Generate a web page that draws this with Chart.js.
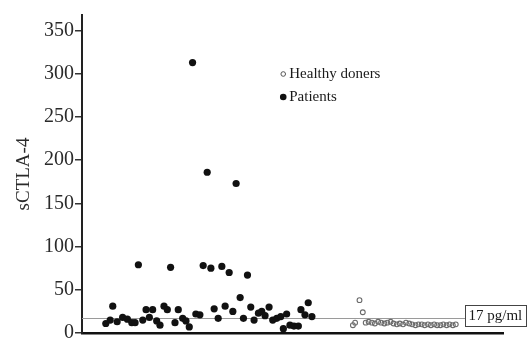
<!DOCTYPE html>
<html>
<head>
<meta charset="utf-8">
<script src="https://cdn.jsdelivr.net/npm/chart.js@4.4.0/dist/chart.umd.min.js"></script>
<style>
  html, body { margin: 0; padding: 0; background: #fff; }
  #wrap { width: 528px; height: 341px; }
</style>
</head>
<body>
<div id="wrap"><canvas id="chart"></canvas></div>
<script>
// positions along the x axis (arbitrary units) and sCTLA-4 values
const patientX = [6.5, 7.7, 8.4, 9.6, 11.1, 12.4, 13.6, 14.5, 15.4, 16.6, 17.5, 18.4, 19.3, 20.4, 21.3,
  22.4, 23.3, 24.2, 25.4, 26.3, 27.5, 28.4, 29.3, 30.2, 31.1, 32.2, 33.1, 34.2, 35.2, 36.1, 37.2,
  38.2, 39.1, 40.2, 41.2, 42.1, 43.2, 44.1, 45.2, 46.1, 47.0, 48.2, 49.1, 50.0, 51.1, 52.1, 53.2,
  54.3, 55.0, 55.9, 56.8, 57.9, 59.1, 59.8, 60.9, 61.8, 62.8];
const patientValues = [11, 15, 31, 13, 18, 16, 12, 12, 79, 15, 27, 18, 27, 14, 9,
  31, 27, 76, 12, 27, 17, 14, 7, 313, 22, 21, 78, 186, 75, 28, 17,
  77, 31, 70, 25, 173, 41, 17, 67, 30, 15, 23, 25, 20, 30, 15, 17,
  19, 5, 22, 9, 8, 8, 27, 21, 35, 19];

const healthyX = [74.0, 74.6, 75.8, 76.7, 77.5, 78.3, 79.2, 80.0, 80.9, 81.7, 82.6, 83.4, 84.3, 85.1,
  86.0, 86.8, 87.7, 88.5, 89.4, 90.2, 91.1, 91.9, 92.8, 93.6, 94.5, 95.3, 96.2, 97.0, 97.9,
  98.7, 99.6, 100.4, 101.3, 102.1];
const healthyValues = [9, 12, 38, 24, 12, 13, 12, 11, 13, 12, 11, 12, 13, 11,
  10, 11, 10, 12, 11, 10, 9, 10, 10, 9, 10, 9, 10, 9, 9,
  10, 9, 10, 9, 10];

const yTicks = [0, 50, 100, 150, 200, 250, 300, 350];
const cutoff = 17;
const cutoffLabel = "17 pg/ml";
const legendLabels = ["Healthy doners", "Patients"];

const serif = "'Liberation Serif', 'Times New Roman', serif";

function toPoints(xs, ys) {
  return xs.map((x, i) => ({ x: x, y: ys[i] }));
}

// threshold line with its boxed label
const cutoffPlugin = {
  id: "cutoff",
  beforeDatasetsDraw(chart) {
    const { ctx, chartArea } = chart;
    const y = Math.round(chart.scales.y.getPixelForValue(cutoff));
    ctx.save();
    ctx.font = "15px " + serif;
    const w = Math.round(ctx.measureText(cutoffLabel).width + 7);
    const boxRight = chart.width - 2;
    const boxLeft = boxRight - w;
    ctx.strokeStyle = "#9a9a9a";
    ctx.lineWidth = 1;
    ctx.beginPath();
    ctx.moveTo(chartArea.left, y + 0.5);
    ctx.lineTo(boxLeft, y + 0.5);
    ctx.stroke();
    ctx.strokeStyle = "#444";
    ctx.fillStyle = "#fff";
    ctx.fillRect(boxLeft, y - 13, w, 21);
    ctx.strokeRect(boxLeft + 0.5, y - 13 + 0.5, w, 21);
    ctx.fillStyle = "#1a1a1a";
    ctx.textBaseline = "middle";
    ctx.fillText(cutoffLabel, boxLeft + 3.5, y - 2);
    ctx.restore();
  }
};

// legend drawn inside the plot area
const legendPlugin = {
  id: "innerLegend",
  afterDatasetsDraw(chart) {
    const { ctx, chartArea } = chart;
    const x = chartArea.left + 0.478 * (chartArea.right - chartArea.left);
    const y0 = chartArea.top + 59;
    ctx.save();
    ctx.font = "15px " + serif;
    ctx.textBaseline = "middle";
    ctx.fillStyle = "#1a1a1a";
    ctx.strokeStyle = "#555";
    ctx.lineWidth = 1;
    ctx.beginPath();
    ctx.arc(x, y0, 2.3, 0, Math.PI * 2);
    ctx.stroke();
    ctx.fillText(legendLabels[0], x + 6, y0);
    ctx.fillStyle = "#111";
    ctx.beginPath();
    ctx.arc(x, y0 + 23, 3.3, 0, Math.PI * 2);
    ctx.fill();
    ctx.fillStyle = "#1a1a1a";
    ctx.fillText(legendLabels[1], x + 6, y0 + 23);
    ctx.restore();
  }
};

new Chart(document.getElementById("chart"), {
  type: "scatter",
  data: {
    datasets: [
      {
        label: legendLabels[1],
        data: toPoints(patientX, patientValues),
        backgroundColor: "#111",
        borderColor: "#111",
        pointRadius: 3.6,
        pointHoverRadius: 3.6,
        borderWidth: 0
      },
      {
        label: legendLabels[0],
        data: toPoints(healthyX, healthyValues),
        backgroundColor: "rgba(255,255,255,0)",
        borderColor: "#6a6a6a",
        pointRadius: 2.4,
        pointHoverRadius: 2.4,
        borderWidth: 1.1
      }
    ]
  },
  options: {
    responsive: true,
    maintainAspectRatio: false,
    animation: false,
    layout: { padding: { top: 15, right: 25, bottom: 8, left: 0 } },
    plugins: {
      legend: { display: false },
      tooltip: { enabled: false }
    },
    scales: {
      x: {
        type: "linear",
        min: 0,
        max: 115,
        ticks: { display: false },
        grid: { drawOnChartArea: false, drawTicks: false },
        border: { display: true, color: "#111", width: 2.5 },
        afterFit: (s) => { s.height = 0; }
      },
      y: {
        min: 0,
        max: 368,
        afterBuildTicks: (s) => {
          s.ticks = yTicks.map((v) => ({ value: v }));
        },
        ticks: {
          color: "#2a2a2a",
          padding: 1,
          font: { family: serif, size: 20 }
        },
        grid: { drawOnChartArea: false, drawTicks: true, tickLength: 7, color: "#333", lineWidth: 1.5 },
        border: { display: true, color: "#222", width: 2 },
        title: {
          display: true,
          text: "sCTLA-4",
          color: "#2a2a2a",
          font: { family: serif, size: 19 },
          padding: { top: 13, bottom: 0 }
        },
        afterFit: (s) => {
          s.width = 82;
          s.paddingTop = 0;
          s.paddingBottom = 0;
        }
      }
    }
  },
  plugins: [cutoffPlugin, legendPlugin]
});
</script>
</body>
</html>
